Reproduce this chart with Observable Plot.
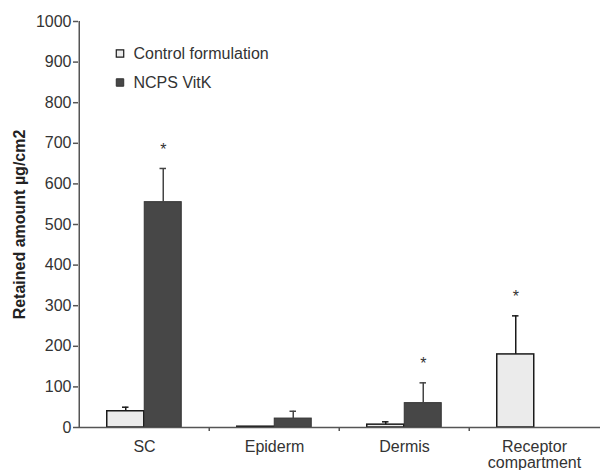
<!DOCTYPE html>
<html>
<head>
<meta charset="utf-8">
<script src="https://cdn.jsdelivr.net/npm/d3@7"></script>
<script src="https://cdn.jsdelivr.net/npm/@observablehq/plot@0.6"></script>
<style>
  html, body { margin: 0; padding: 0; background: #fff; }
  #chart { width: 600px; height: 470px; }
</style>
</head>
<body>
<div id="chart"></div>
<script>
const categories = ["SC", "Epiderm", "Dermis", "Receptor\ncompartment"];
const seriesNames = ["Control formulation", "NCPS VitK"];
const controlMean = [40, 2, 7, 180];
const controlErrTop = [50, null, 14, 275];
const controlStar = [false, false, false, true];
const ncpsMean = [555, 22, 60, 0];
const ncpsErrTop = [638, 40, 110, null];
const ncpsStar = [true, false, true, false];
const yTicks = [0, 100, 200, 300, 400, 500, 600, 700, 800, 900, 1000];
const yLabel = "Retained amount µg/cm2";

const rows = categories.map((cat, i) => ({
  cat,
  control: controlMean[i], controlErr: controlErrTop[i], controlStar: controlStar[i],
  ncps: ncpsMean[i], ncpsErr: ncpsErrTop[i], ncpsStar: ncpsStar[i]
}));

const W = 600, H = 470, mL = 78, mR = 0, mT = 21, mB = 43;
const step = (W - mL - mR) / categories.length;
const barW = 37.5;
const groupOff = (step - 2 * barW) / 2;
const capHalf = 3.5;
const ink = "#1a1a1a";
const axisColor = "#555";
const textColor = "#333";
const controlFill = "#ebebeb";
const ncpsFill = "#474747";

const cErr = rows.filter(d => d.controlErr != null);
const nErr = rows.filter(d => d.ncpsErr != null);

const chart = Plot.plot({
  width: W, height: H,
  marginLeft: mL, marginRight: mR, marginTop: mT, marginBottom: mB,
  style: { fontFamily: "Liberation Sans, Arial, sans-serif", background: "#fff" },
  x: { domain: categories, padding: 0 },
  y: { domain: [0, 1000] },
  marks: [
    // bars
    Plot.barY(rows, { x: "cat", y: "control", insetLeft: groupOff, insetRight: groupOff + barW,
      fill: controlFill, stroke: ink, strokeWidth: 1.5 }),
    Plot.barY(rows.filter(d => d.ncps > 0), { x: "cat", y: "ncps", insetLeft: groupOff + barW, insetRight: groupOff,
      fill: ncpsFill, stroke: "#333", strokeWidth: 1 }),
    // error bars
    Plot.ruleX(cErr, { x: "cat", y1: "control", y2: "controlErr", dx: -barW / 2, stroke: ink, strokeWidth: 1.5 }),
    Plot.tickY(cErr, { x: "cat", y: "controlErr", insetLeft: step / 2 - barW / 2 - capHalf,
      insetRight: step / 2 + barW / 2 - capHalf, stroke: ink, strokeWidth: 1.5 }),
    Plot.ruleX(nErr, { x: "cat", y1: "ncps", y2: "ncpsErr", dx: barW / 2, stroke: "#444", strokeWidth: 1.5 }),
    Plot.tickY(nErr, { x: "cat", y: "ncpsErr", insetLeft: step / 2 + barW / 2 - capHalf,
      insetRight: step / 2 - barW / 2 - capHalf, stroke: "#444", strokeWidth: 1.5 }),
    // significance stars
    Plot.text(rows.filter(d => d.controlStar), { x: "cat", y: "controlErr", dx: -barW / 2, dy: -19,
      text: () => "*", fontSize: 16, fill: textColor }),
    Plot.text(rows.filter(d => d.ncpsStar), { x: "cat", y: "ncpsErr", dx: barW / 2, dy: -19,
      text: () => "*", fontSize: 16, fill: textColor }),
    // axis lines and boundary ticks
    Plot.ruleY([0], { stroke: axisColor, strokeWidth: 1.5 }),
    Plot.ruleX([categories[0]], { dx: -step / 2, y1: 0, y2: 1000, stroke: axisColor, strokeWidth: 1.5 }),
    Plot.ruleX(categories.slice(1), { x: d => d, dx: -step / 2, y1: 0, y2: -10, stroke: axisColor, strokeWidth: 1.5 }),
    Plot.axisY({ ticks: yTicks, tickFormat: d => String(d), tickSize: 5, tickPadding: 2, fontSize: 16,
      color: textColor, stroke: axisColor, strokeWidth: 1.5, label: null }),
    Plot.axisX({ tickSize: 0, tickPadding: 13, fontSize: 16, color: textColor, lineHeight: 1.0, label: null }),
    Plot.text([yLabel], { frameAnchor: "left", dx: -59, rotate: -90, text: d => d, textAnchor: "middle",
      lineAnchor: "middle", fontSize: 16, fontWeight: "bold", fill: "#222" }),
    // legend
    Plot.dot(seriesNames, { frameAnchor: "top-left", dx: 41.5, dy: (d, i) => 0, symbol: "square", r: 4.2,
      fill: controlFill, stroke: ink, strokeWidth: 1.2, filter: (d, i) => i === 0, dy: 32 }),
    Plot.dot(seriesNames, { frameAnchor: "top-left", dx: 41.5, symbol: "square", r: 4.2,
      fill: ncpsFill, stroke: "#333", strokeWidth: 1, filter: (d, i) => i === 1, dy: 61 }),
    Plot.text(seriesNames, { frameAnchor: "top-left", dx: 55, dy: 32, lineAnchor: "middle",
      text: d => d, textAnchor: "start", fontSize: 16, fill: textColor, filter: (d, i) => i === 0 }),
    Plot.text(seriesNames, { frameAnchor: "top-left", dx: 55, dy: 61, lineAnchor: "middle",
      text: d => d, textAnchor: "start", fontSize: 16, fill: textColor, filter: (d, i) => i === 1 })
  ]
});
document.getElementById("chart").appendChild(chart);
</script>
</body>
</html>
